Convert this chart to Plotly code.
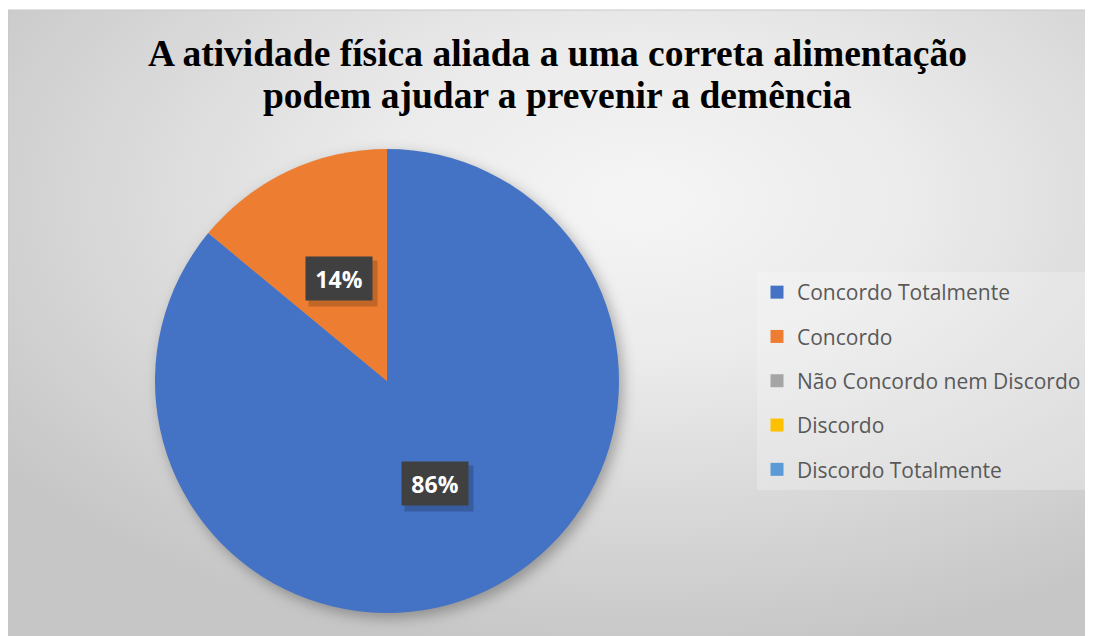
#!/usr/bin/env python3

import base64
import math
import plotly.graph_objects as go

W, H = 1093, 636
OFF = 8  # the page puts the figure 8px in from the top-left corner

# data
categories = ["Concordo Totalmente", "Concordo", "Não Concordo nem Discordo",
              "Discordo", "Discordo Totalmente"]
percent_values = [86, 14, 0, 0, 0]
colors = ["#4472C4", "#ED7D31", "#A5A5A5", "#FFC000", "#5B9BD5"]
title_lines = ["A atividade física aliada a uma correta alimentação",
               "podem ajudar a prevenir a demência"]

# chart box inside the figure
box_x0, box_y0 = 0, 2

# pie domain in figure pixels -> paper
pie_left, pie_right, pie_top, pie_bottom = 155 - OFF, 619 - OFF, 149 - OFF, 613 - OFF
dom_x = [pie_left / W, pie_right / W]
dom_y = [1 - pie_bottom / H, 1 - pie_top / H]
pie_cx = (pie_left + pie_right) / 2
pie_cy = (pie_top + pie_bottom) / 2
pie_r = (pie_right - pie_left) / 2


def background_uri():
    bw, bh = W - box_x0, H - box_y0
    sx, sy = pie_cx - box_x0 + 4, pie_cy - box_y0 + 5
    svg = f'''<svg xmlns="http://www.w3.org/2000/svg" width="{bw}" height="{bh}" viewBox="0 0 {bw} {bh}">
<defs>
<radialGradient id="g" cx="58%" cy="30%" r="72%">
<stop offset="0" stop-color="#f5f5f5"/>
<stop offset="0.35" stop-color="#ebebeb"/>
<stop offset="1" stop-color="#c6c6c6"/>
</radialGradient>
<filter id="b" x="-20%" y="-20%" width="140%" height="140%"><feGaussianBlur stdDeviation="7"/></filter>
</defs>
<rect x="0" y="0" width="{bw}" height="{bh}" fill="url(#g)"/>
<circle cx="{sx}" cy="{sy}" r="{pie_r}" fill="rgba(0,0,0,0.3)" filter="url(#b)"/>
</svg>'''
    return "data:image/svg+xml;base64," + base64.b64encode(svg.encode()).decode()


fig = go.Figure()

fig.add_trace(go.Pie(
    labels=categories,
    values=percent_values,
    marker=dict(colors=colors, line=dict(width=0)),
    sort=False,
    direction="clockwise",
    rotation=0,
    textinfo="none",
    hoverinfo="label+percent",
    showlegend=False,
    domain=dict(x=dom_x, y=dom_y),
))

# legend entries (separate groups so the spacing can be set)
for name, color in zip(categories, colors):
    fig.add_trace(go.Scatter(
        x=[None], y=[None], mode="markers", name=name, legendgroup=name,
        marker=dict(symbol="square", size=13, color=color),
    ))

# data labels at ~half radius, at the middle angle of each slice
total = sum(percent_values)
start = 0.0
for val in percent_values:
    if val == 0:
        continue
    frac = val / total
    mid = (start + frac / 2) * 2 * math.pi
    start += frac
    lx = pie_cx + 0.49 * pie_r * math.sin(mid)
    ly = pie_cy - 0.49 * pie_r * math.cos(mid)
    # soft shadow
    fig.add_annotation(
        x=(lx + 4) / W, y=1 - (ly + 5) / H, xref="paper", yref="paper",
        xanchor="center", yanchor="middle",
        text="", showarrow=False, width=66, height=43,
        bgcolor="rgba(0,0,0,0.18)",
    )
    fig.add_annotation(
        x=lx / W, y=1 - ly / H, xref="paper", yref="paper",
        xanchor="center", yanchor="middle",
        text=f"<b>{round(frac * 100)}%</b>", showarrow=False,
        width=64, height=41, bgcolor="#404040",
        font=dict(family="Open Sans", size=23, color="white"),
    )

# title, two lines set a little tighter than plotly's default line height
for i, line in enumerate(title_lines):
    fig.add_annotation(
        x=(557 - OFF) / W, y=1 - (54 + 42 * i - OFF) / H,
        xref="paper", yref="paper", xanchor="center", yanchor="middle",
        showarrow=False, text=f"<b>{line}</b>",
        font=dict(family="Liberation Serif", size=37.5, color="black"),
    )

fig.add_shape(type="rect", xref="paper", yref="paper",
              x0=box_x0 / W, x1=1.01, y0=-0.01, y1=1 - box_y0 / H,
              line=dict(color="#c8c8c8", width=1), layer="above")

fig.update_layout(
    width=W, height=H,
    margin=dict(l=0, r=0, t=0, b=0),
    paper_bgcolor="white",
    plot_bgcolor="rgba(0,0,0,0)",
    images=[dict(source=background_uri(), xref="paper", yref="paper",
                 x=box_x0 / W, y=1 - box_y0 / H, sizex=1 - box_x0 / W,
                 sizey=1 - box_y0 / H, xanchor="left", yanchor="top",
                 sizing="stretch", layer="below")],
    xaxis=dict(visible=False),
    yaxis=dict(visible=False),
    showlegend=True,
    legend=dict(x=(757 - OFF) / W, y=1 - (272 - OFF) / H,
                xanchor="left", yanchor="top",
                bgcolor="rgba(250,250,250,0.3)", tracegroupgap=14,
                itemwidth=30,
                font=dict(family="Open Sans", size=21, color="#595959")),
)

fig.write_html("out.html")
